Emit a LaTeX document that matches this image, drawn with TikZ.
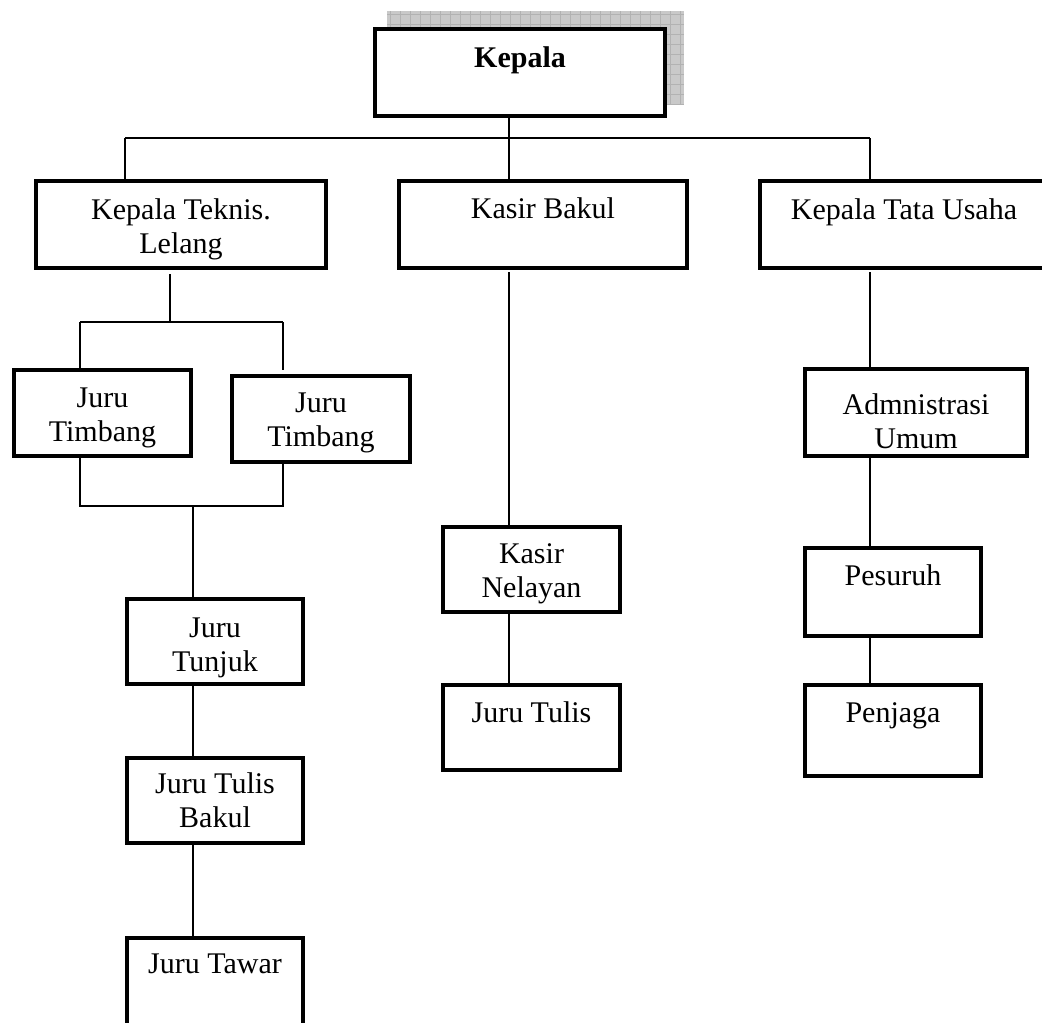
\documentclass[tikz,border=0pt]{standalone}
\usepackage{fontspec}
\setmainfont{Liberation Serif}
\begin{document}
\begin{tikzpicture}[x=1pt,y=-1pt,
  box/.style={draw=black, fill=white, line width=3.6pt, inner sep=0pt, outer sep=0pt},
  lbl/.style={inner sep=0pt, outer sep=0pt, font=\fontsize{30}{34.5}\selectfont},
  conn/.style={draw=black, line width=1.8pt},
  gridline/.style={draw=black!30, line width=0.8pt}]

% a box given by its corners, with its text set from the top edge
\newcommand\orgbox[7]{%
  \node[box, minimum width={(#4)-(#2)}, minimum height={(#5)-(#3)}]
    (#1) at ({((#2)+(#4))/2},{((#3)+(#5))/2}) {};
  \node[lbl, anchor=base] (#1-t) at ([yshift=-#6pt]#1.north)
    {\parbox[t]{9cm}{\centering #7}};}

\useasboundingbox (0,0) rectangle (1042,1023);
\clip (0,0) rectangle (1042,1023);

% hatched shadow behind the head box
\fill[gray!42] (387,11) rectangle (684,105);
\begin{scope}
  \clip (387,11) rectangle (684,105);
  \foreach \gx in {390,400,...,690} \draw[gridline] (\gx,11) -- (\gx,105);
  \foreach \gy in {14,24,...,110} \draw[gridline] (387,\gy) -- (684,\gy);
\end{scope}

% boxes
\orgbox{kepala}{375}{29}{665}{116}{38}{\textbf{Kepala}}
\orgbox{kteknis}{36}{181}{326}{268}{38}{Kepala Teknis.\\Lelang}
\orgbox{kbakul}{399}{181}{687}{268}{37}{Kasir Bakul}
\orgbox{ktu}{760}{181}{1048}{268}{38}{Kepala Tata Usaha}
\orgbox{timbL}{14}{370}{191}{456}{37}{Juru\\Timbang}
\orgbox{timbR}{232}{376}{410}{462}{36}{Juru\\Timbang}
\orgbox{tunjuk}{127}{599}{303}{684}{38}{Juru\\Tunjuk}
\orgbox{tbakul}{127}{758}{303}{843}{35}{Juru Tulis\\Bakul}
\orgbox{tawar}{127}{938}{303}{1028}{35}{Juru Tawar}
\orgbox{knelayan}{443}{527}{620}{612}{36}{Kasir\\Nelayan}
\orgbox{jtulis}{443}{685}{620}{770}{37}{Juru Tulis}
\orgbox{adm}{805}{369}{1027}{456}{45}{Admnistrasi\\Umum}
\orgbox{pesuruh}{805}{548}{981}{636}{37}{Pesuruh}
\orgbox{penjaga}{805}{685}{981}{776}{37}{Penjaga}

% junction points of the connector lines
\coordinate (jM) at (509,138);
\coordinate (jL) at (125,138);
\coordinate (jR) at (870,138);
\coordinate (tM) at (170,322);
\coordinate (tL) at (80,322);
\coordinate (tR) at (283,322);
\coordinate (bL) at (80,506);
\coordinate (bR) at (283,506);
\coordinate (bM) at (193,506);

% top level
\draw[conn] (kepala.south -| jM) -- (kbakul.north -| jM);
\draw[conn] (jL) -- (jR);
\draw[conn] (jL) -- (kteknis.north -| jL);
\draw[conn] (jR) -- (ktu.north -| jR);

% Kepala Teknis branch
\draw[conn, shorten <=6pt] (kteknis.south -| tM) -- (tM);
\draw[conn] (tL) -- (tR);
\draw[conn] (tL) -- (timbL.north -| tL);
\draw[conn, shorten >=6pt] (tR) -- (timbR.north -| tR);
\draw[conn] (timbL.south -| bL) -- (bL) -- (bR) -- (timbR.south -| bR);
\draw[conn] (bM) -- (tunjuk.north -| bM);
\draw[conn] (tunjuk.south -| bM) -- (tbakul.north -| bM);
\draw[conn] (tbakul.south -| bM) -- (tawar.north -| bM);

% Kasir Bakul branch
\draw[conn, shorten <=4pt] (kbakul.south -| jM) -- (knelayan.north -| jM);
\draw[conn] (knelayan.south -| jM) -- (jtulis.north -| jM);

% Kepala Tata Usaha branch
\draw[conn, shorten <=4pt] (ktu.south -| jR) -- (adm.north -| jR);
\draw[conn] (adm.south -| jR) -- (pesuruh.north -| jR);
\draw[conn] (pesuruh.south -| jR) -- (penjaga.north -| jR);
\end{tikzpicture}
\end{document}
